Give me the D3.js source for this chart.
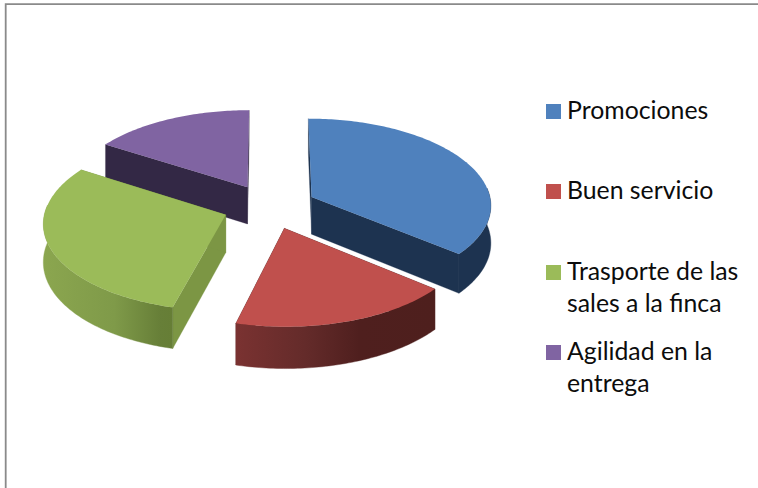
<!DOCTYPE html>
<html>
<head>
<meta charset="utf-8">
<script src="https://cdn.jsdelivr.net/npm/d3@7/dist/d3.min.js"></script>
<style>
html,body{margin:0;padding:0;background:#fff;overflow:hidden}
svg{display:block}
text{font-family:Lato,"Open Sans",sans-serif;fill:#0c0c0c}
</style>
</head>
<body>
<svg id="c" width="758" height="488"></svg>
<script>
// Data
const categories = ["Promociones", "Buen servicio", "Trasporte de las sales a la finca", "Agilidad en la entrega"];
const values = [36, 18, 30, 16];
const legendLines = [["Promociones"], ["Buen servicio"], ["Trasporte de las", "sales a la finca"], ["Agilidad en la", "entrega"]];

// Styles
const topColors = ["#4F81BD", "#C0504D", "#9BBB59", "#8064A2"];
const wallColors = ["#1D3350", "#4E1F1E", "#7C9644", "#332845"];
const curveStops = [
  [["0%", "#1D3350"], ["100%", "#1D3350"]],
  [["0%", "#7A3231"], ["35%", "#642B2A"], ["62%", "#4F1F1E"], ["100%", "#4E1F1D"]],
  [["0%", "#8BA64F"], ["55%", "#7F9A49"], ["90%", "#677F38"], ["100%", "#667E36"]],
  [["0%", "#332845"], ["100%", "#332845"]]
];

// Projection settings
const cx = 269.6, cy = 206.5, R = 180, A = 86.4, persp = 0.083, explode = 0.26, depth = 37.5;
const paintOrder = [3, 0, 2, 1];

const svg = d3.select("#c");
const defs = svg.append("defs");

// frame
svg.append("path").attr("d", "M5.7,488V4.2H758").attr("fill", "none").attr("stroke", "#8a8a8a").attr("stroke-width", 1.8);

const pie = d3.pie().sort(null).value(d => d);
const arcs = pie(values);
const colorTop = d3.scaleOrdinal().domain(categories).range(topColors);
const colorWall = d3.scaleOrdinal().domain(categories).range(wallColors);

function project(u, v, z) {
  const s = 1 / (1 - persp * v);
  return [cx + R * u * s, cy + A * v * s + z * depth * s];
}
const line = d3.line();

function slicePoints(d) {
  const mid = (d.startAngle + d.endAngle) / 2;
  const eu = explode * Math.sin(mid), ev = -explode * Math.cos(mid);
  const at = (a, z) => project(eu + Math.sin(a), ev - Math.cos(a), z);
  const tip = z => project(eu, ev, z);
  const step = Math.PI / 180;
  const angles = d3.range(d.startAngle, d.endAngle, step).concat([d.endAngle]);
  return {at, tip, angles};
}

const g = svg.append("g");
paintOrder.forEach(i => {
  const d = arcs[i];
  const {at, tip, angles} = slicePoints(d);
  const cat = categories[i];
  const sg = g.append("g").attr("class", "slice");
  // radial walls
  [d.startAngle, d.endAngle].forEach(a => {
    sg.append("path")
      .attr("d", line([tip(0), at(a, 0), at(a, 1), tip(1)]) + "Z")
      .attr("fill", colorWall(cat)).attr("stroke", colorWall(cat)).attr("stroke-width", 0.3);
  });
  // curved wall
  const front = angles.filter(a => Math.cos(a) <= 0.12);
  if (front.length > 1) {
    const topEdge = front.map(a => at(a, 0));
    const botEdge = front.map(a => at(a, 1)).reverse();
    const xs = topEdge.map(p => p[0]);
    const id = "wall" + i;
    const grad = defs.append("linearGradient").attr("id", id)
      .attr("gradientUnits", "userSpaceOnUse")
      .attr("x1", d3.min(xs)).attr("x2", d3.max(xs)).attr("y1", 0).attr("y2", 0);
    curveStops[i].forEach(st => grad.append("stop").attr("offset", st[0]).attr("stop-color", st[1]));
    sg.append("path").attr("d", line(topEdge.concat(botEdge)) + "Z")
      .attr("fill", `url(#${id})`).attr("stroke", `url(#${id})`).attr("stroke-width", 0.4);
  }
  // top face
  sg.append("path")
    .attr("d", line([tip(0)].concat(angles.map(a => at(a, 0)))) + "Z")
    .attr("fill", colorTop(cat));
});

// legend
const swatchX = 546, swatchSize = 15, textX = 567;
const swatchY = d3.scaleOrdinal().domain(categories).range([104, 184, 265, 345]);
const leading = 32;
const lg = svg.append("g");
categories.forEach((c, i) => {
  lg.append("rect").attr("x", swatchX).attr("y", swatchY(c)).attr("width", swatchSize).attr("height", swatchSize).attr("fill", colorTop(c));
  legendLines[i].forEach((t, j) => {
    lg.append("text").attr("x", textX).attr("y", swatchY(c) + 15 + j * leading)
      .attr("font-size", 24.8).text(t);
  });
});
</script>
</body>
</html>
